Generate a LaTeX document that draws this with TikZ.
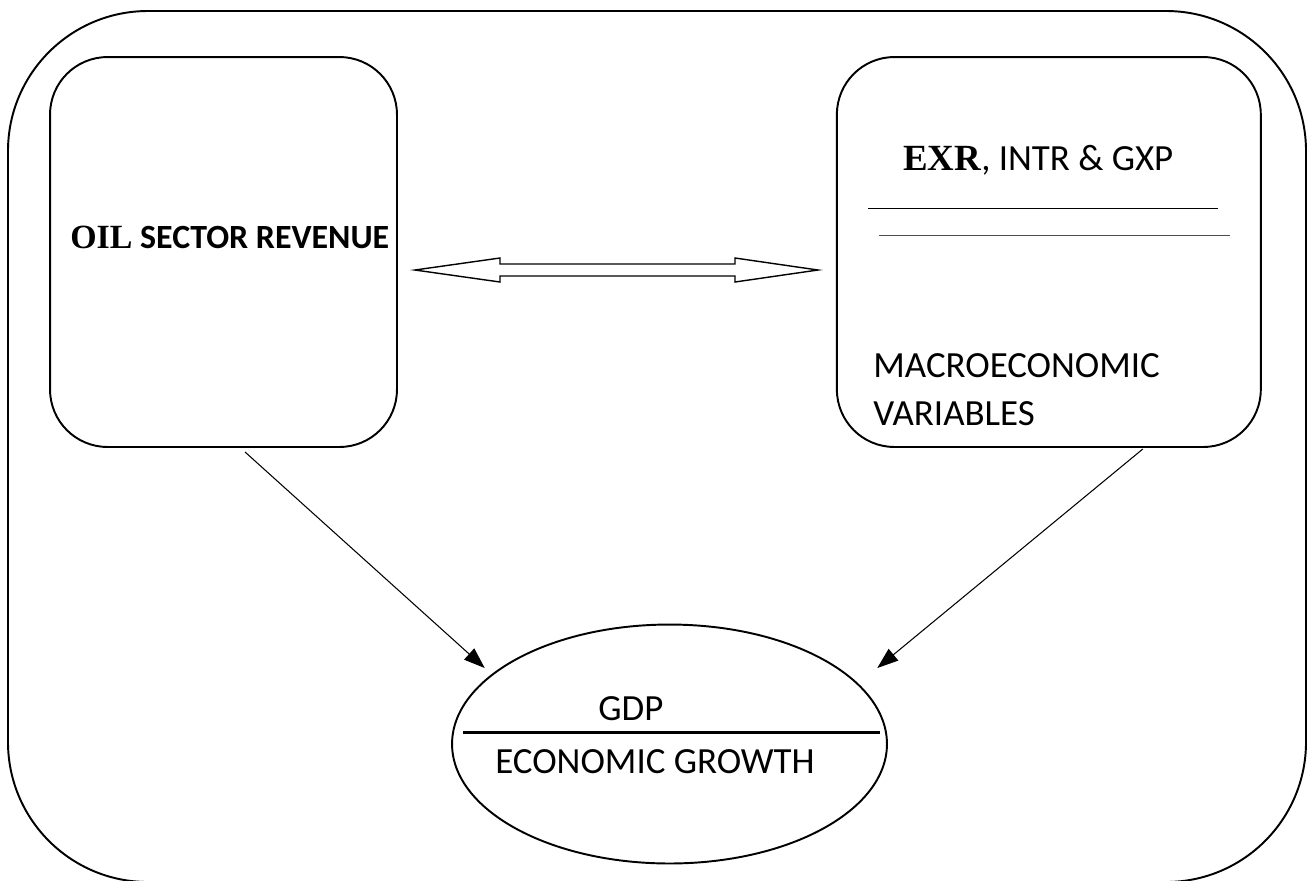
\documentclass[tikz,border=0pt]{standalone}
\usepackage{fontspec}
\setmainfont{Carlito}
\newfontfamily\oilfont{Liberation Serif}
\usetikzlibrary{arrows.meta,positioning,shapes.geometric}

\begin{document}
\begin{tikzpicture}[x=0.02cm,y=-0.02cm]
	% one unit is one pixel of the drawing, y runs downwards
	\tikzset{box/.style={draw,line width=1.1pt,rounded corners=1.15cm,inner sep=0,outer sep=0},
		link/.style={line width=0.6pt,-{Triangle[length=0.42cm,width=0.3cm]}},
		lbl/.style={inner sep=0,anchor=base west,font=\fontsize{21}{25}\selectfont},
	}
	\useasboundingbox (0,0) rectangle (1310,880);
	% The outer frame runs past the bottom edge.
	\draw[line width=1.1pt,rounded corners=2.8cm] (8,11) rectangle (1306,882);
	\node[box,minimum width=6.94cm,minimum height=7.8cm] (oil) at (223.5,252) {};
	\node[box,minimum width=8.48cm,minimum height=7.8cm,right=8.8cm of oil] (mac) {};
	\node[draw,ellipse,line width=1.1pt,inner sep=0,outer sep=0,minimum width=8.7cm,minimum height=4.78cm] (gdp) at (669.5,744) {};
	% texts
	\node[lbl,font=\fontsize{19.3}{23}\selectfont\bfseries] (oiltxt) at (70,248) {{\oilfont OIL} SECTOR REVENUE};
	\node[lbl] (rates) at (903,170) {{\oilfont\bfseries EXR}, INTR \& GXP};
	\node[lbl] (macro) at (873,377) {MACROECONOMIC};
	\node[lbl] (vars) at (873,425) {VARIABLES};
	\node[lbl] (gdptxt) at (598,720) {GDP};
	\node[lbl] (growth) at (495,773) {ECONOMIC GROWTH};
	% rules under the rates and across the ellipse
	\draw[line width=0.5pt] (868,208) -- (1218,208);
	\draw[line width=0.5pt,black!70] (879,235) -- (1230,235);
	\draw[line width=1.7pt] (463,732) -- (880,732);
	% The hollow double arrow between the two boxes.
	\draw[line width=0.8pt] ([shift={(18,18)}]oil.east) -- ++(85,-12) -- ++(0,6) -- ++(235,0) -- ++(0,-6) -- ++(83,12) -- ++(-83,12) -- ++(0,-6) -- ++(-235,0) -- ++(0,6) -- cycle;
	\draw[link] ([shift={(21.5,5)}]oil.south) -- ([shift={(-31,8.5)}]gdp.north west);
	\draw[link] ([shift={(94,2)}]mac.south) -- ([shift={(54,8.5)}]gdp.north east);
\end{tikzpicture}
\end{document}
